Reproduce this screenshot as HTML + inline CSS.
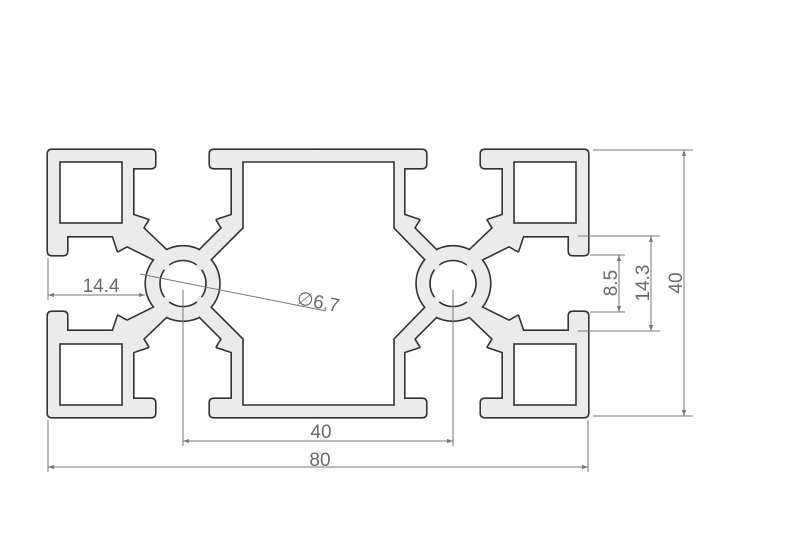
<!DOCTYPE html>
<html><head><meta charset="utf-8"><style>
html,body{margin:0;padding:0;background:#fff;}
svg{display:block;}
text{font-family:"Liberation Sans",sans-serif;fill:#6a6a6a;font-size:19px;}
</style></head><body>
<svg width="804" height="557" viewBox="0 0 804 557" xmlns="http://www.w3.org/2000/svg">
<defs>
<marker id="a" viewBox="0 0 10 10" refX="10" refY="5" markerWidth="8" markerHeight="6" orient="auto-start-reverse" markerUnits="userSpaceOnUse"><path d="M0,1.5 L10,5 L0,8.5 Z" fill="#777"/></marker>
<g id="blk">
<path d="M52,150 H151 Q155,150 155,154 V164 Q155,168 151,168 H133 V215 L148,220 L143,228 L166.4,250.4 L183,283.5 L154.7,259.7 L127,246 L118,251 L113,236 H67 V251 Q67,255 63,255 H52 Q48,255 48,251 V154 Q48,150 52,150 Z"/>
</g>
<g id="mid">
<path d="M214,150 H318 V417 H214 Q210,417 210,413 V403 Q210,399 214,399 H232 V352 L217,347 L222,339 L200,317 L196,283.5 L200,250 L222,228 L217,220 L232,215 V168 H214 Q210,168 210,164 V154 Q210,150 214,150 Z"/>
</g>
<g id="solid">
<use href="#blk"/>
<use href="#blk" transform="matrix(1,0,0,-1,0,567)"/>
<use href="#blk" transform="matrix(-1,0,0,1,636,0)"/>
<use href="#blk" transform="matrix(-1,0,0,-1,636,567)"/>
<use href="#mid"/>
<use href="#mid" transform="matrix(-1,0,0,1,636,0)"/>
<circle cx="183" cy="283.5" r="37"/>
<circle cx="453" cy="283.5" r="37"/>
</g>
</defs>
<use href="#solid" fill="#333" stroke="#333" stroke-width="3.2" stroke-linejoin="round"/>
<use href="#solid" fill="#ebebeb" stroke="none"/>
<g fill="#fff" stroke="#333" stroke-width="1.6">
<rect x="60" y="162" width="62" height="61"/>
<rect x="60" y="344" width="62" height="61"/>
<rect x="514" y="162" width="62" height="61"/>
<rect x="514" y="344" width="62" height="61"/>
<path d="M243,162 H394 V228 L424.7,259.7 A37 37 0 0 0 424.7,307.3 L394,339 V405 H243 V339 L211.3,307.3 A37 37 0 0 0 211.3,259.7 L243,228 Z"/>
<circle cx="183" cy="283.5" r="23"/>
<circle cx="453" cy="283.5" r="23"/>
</g>
<g fill="#ebebeb" stroke="none">
<circle cx="166.7" cy="267.2" r="3.4"/><circle cx="199.3" cy="267.2" r="3.4"/><circle cx="166.7" cy="299.8" r="3.4"/><circle cx="199.3" cy="299.8" r="3.4"/>
<circle cx="436.7" cy="267.2" r="3.4"/><circle cx="469.3" cy="267.2" r="3.4"/><circle cx="436.7" cy="299.8" r="3.4"/><circle cx="469.3" cy="299.8" r="3.4"/>
</g>
<g stroke="#777" stroke-width="1" fill="none">
<line x1="48" y1="258" x2="48" y2="300"/>
<line x1="48" y1="295" x2="145" y2="295" marker-start="url(#a)" marker-end="url(#a)"/>
<line x1="48" y1="420" x2="48" y2="472"/>
<line x1="588" y1="420" x2="588" y2="472"/>
<line x1="48" y1="467" x2="588" y2="467" marker-start="url(#a)" marker-end="url(#a)"/>
<line x1="183" y1="290" x2="183" y2="446"/>
<line x1="453" y1="290" x2="453" y2="446"/>
<line x1="183" y1="441" x2="453" y2="441" marker-start="url(#a)" marker-end="url(#a)"/>
<line x1="140" y1="274" x2="326" y2="311"/>
<line x1="593" y1="150" x2="693" y2="150"/>
<line x1="593" y1="416" x2="693" y2="416"/>
<line x1="684" y1="150" x2="684" y2="416" marker-start="url(#a)" marker-end="url(#a)"/>
<line x1="578" y1="236" x2="660" y2="236"/>
<line x1="578" y1="331" x2="660" y2="331"/>
<line x1="651" y1="236" x2="651" y2="331" marker-start="url(#a)" marker-end="url(#a)"/>
<line x1="590" y1="255" x2="625" y2="255"/>
<line x1="590" y1="312" x2="625" y2="312"/>
<line x1="619" y1="255" x2="619" y2="312" marker-start="url(#a)" marker-end="url(#a)"/>
</g>
<text x="101" y="292" text-anchor="middle">14.4</text>
<text x="320" y="466" text-anchor="middle">80</text>
<text x="321" y="438" text-anchor="middle">40</text>
<text x="296" y="304" transform="rotate(11 296 304)">∅6.7</text>
<text x="682" y="283" text-anchor="middle" transform="rotate(-90 682 283)">40</text>
<text x="649" y="283" text-anchor="middle" transform="rotate(-90 649 283)">14.3</text>
<text x="617" y="283" text-anchor="middle" transform="rotate(-90 617 283)">8.5</text>
</svg>
</body></html>
